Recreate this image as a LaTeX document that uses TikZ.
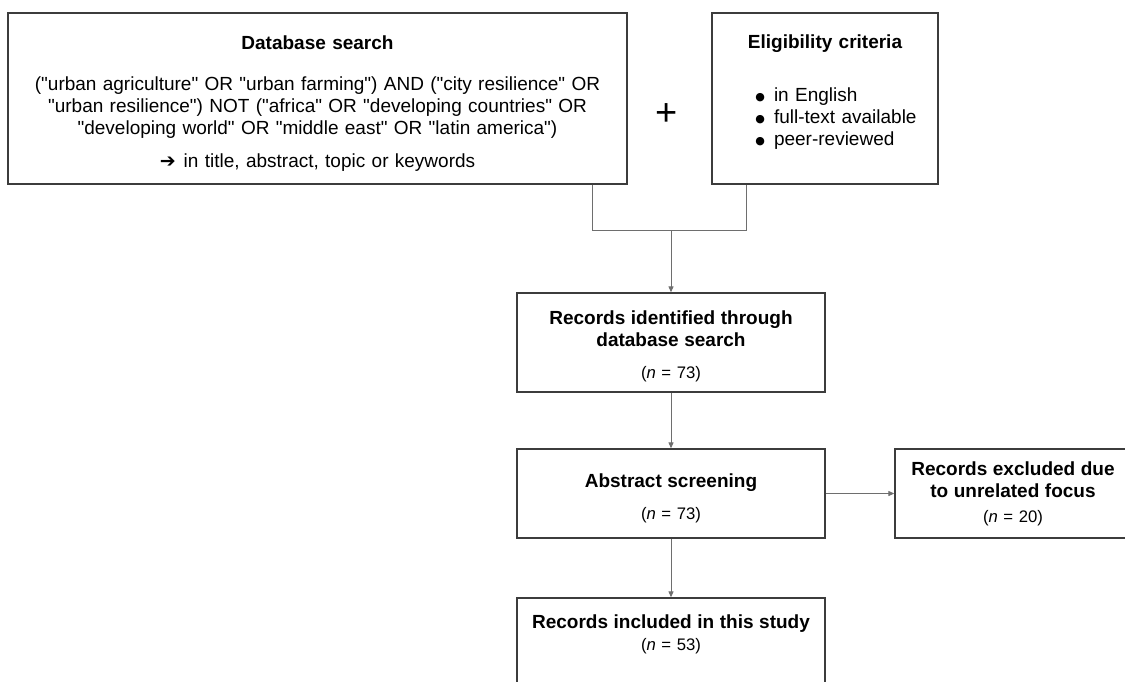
\documentclass[tikz,border=0pt]{standalone}
\usepackage{fontspec}
\setmainfont{Liberation Sans}[Ligatures=TeXOff]
\newfontfamily\setafont{DejaVu Sans}
\usetikzlibrary{arrows.meta}

\definecolor{cinzaborda}{HTML}{3C3C3C}
\definecolor{cinzalinha}{HTML}{6E6E6E}
\newcommand{\titulo}[1]{{\fontsize{19}{22}\selectfont\bfseries #1}}
\newcommand{\corpo}{\fontsize{19}{22}\selectfont}
\newcommand{\marca}{\raisebox{1.5pt}{\setafont\fontsize{11}{11}\selectfont ●}}

\begin{document}
\begin{tikzpicture}[
		x=1pt, y=-1pt,
		caixa/.style={
			draw=cinzaborda,
			rectangle,
			line width=1.3pt,
			inner xsep=4pt,
			inner ysep=0pt,
			align=center,
			font=\fontsize{16.7}{22}\selectfont
		},
		linha/.style={
			draw=cinzalinha,
			line width=1pt
		},
		seta/.style={
			linha,
			-{Triangle[length=6pt, width=5pt]}
		}
		]
		
		\useasboundingbox (0,0) rectangle (1125,681);
		\clip (0,0) rectangle (1125,681);
		
		\node[caixa, font=\corpo, minimum width=619pt, minimum height=171pt, text width=611pt] (busca) at (317.5,98.5) {%
			\rule{0pt}{24pt}\titulo{Database search}\\[19pt]
			("urban agriculture" OR "urban farming") AND ("city resilience" OR\\
			"urban resilience") NOT ("africa" OR "developing countries" OR\\
			"developing world" OR "middle east" OR "latin america")\\[11pt]
			{\setafont ➔}\hspace{8pt}in title, abstract, topic or keywords};
		
		\node[font=\fontsize{38}{38}\selectfont] (mais) at (667,115) {+};
		
		\node[caixa, font=\corpo, minimum width=226pt, minimum height=171pt, text width=218pt] (criterios) at (825,98.5) {%
			\titulo{Eligibility criteria}\\[31pt]
			\hspace*{22pt}\begin{tabular}[t]{@{}l@{\hspace{9pt}}l@{}}
				\marca & in English\\
				\marca & full-text available\\
				\marca & peer-reviewed\rule[-16pt]{0pt}{16pt}
			\end{tabular}};
		
		\node[caixa, minimum width=308pt, minimum height=99pt, text width=300pt] (registros) at (671,342.5) {%
			\rule{0pt}{21pt}\titulo{Records identified through}\\
			\titulo{database search}\\[10pt]
			(\textit{n} = 73)};
		
		\node[caixa, minimum width=308pt, minimum height=89pt, text width=300pt] (triagem) at (671,493.5) {%
			\rule{0pt}{23pt}\titulo{Abstract screening}\\[10pt]
			(\textit{n} = 73)};
		
		\node[caixa, minimum width=236pt, minimum height=89pt, text width=228pt] (excluidos) at (1013,493.5) {%
			\titulo{Records excluded due}\\
			\titulo{to unrelated focus}\\[3pt]
			(\textit{n} = 20)};
		
		\node[caixa, minimum width=308pt, minimum height=100pt, text width=300pt] (incluidos) at (671,648) {%
			\titulo{Records included in this study}\\
			(\textit{n} = 53)\rule[-30pt]{0pt}{30pt}};
		
		%Ligacoes
		\coordinate (jesq) at (592,230);
		\coordinate (jdir) at (746,230);
		\coordinate (juncao) at (671,230);
		\draw[linha] (busca.south -| jesq) -- (jesq) -- (jdir) -- (criterios.south -| jdir);
		\draw[seta] (juncao) -- (registros.north);
		\draw[seta] (registros.south) -- (triagem.north);
		\draw[seta] (triagem.east) -- (excluidos.west);
		\draw[seta] (triagem.south) -- (incluidos.north);
		
	\end{tikzpicture}
\end{document}
